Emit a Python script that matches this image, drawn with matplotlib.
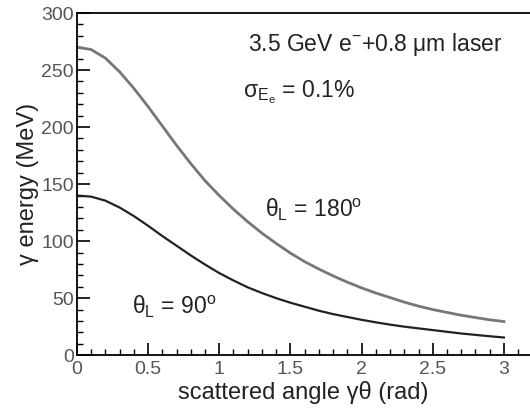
import matplotlib
matplotlib.use('Agg')
import matplotlib.pyplot as plt
import matplotlib.ticker as mtick

plt.rcParams['font.family'] = ['Liberation Sans', 'DejaVu Sans']
plt.rcParams['mathtext.fontset'] = 'custom'
plt.rcParams['mathtext.rm'] = 'Liberation Sans'
plt.rcParams['mathtext.it'] = 'Liberation Sans'
plt.rcParams['mathtext.bf'] = 'Liberation Sans:bold'

# scattered angle gamma*theta (rad)
angle = [0.0, 0.1, 0.2, 0.3, 0.4, 0.5, 0.6, 0.7, 0.8, 0.9, 1.0,
         1.1, 1.2, 1.3, 1.4, 1.5, 1.6, 1.7, 1.8, 1.9, 2.0,
         2.1, 2.2, 2.3, 2.4, 2.5, 2.6, 2.7, 2.8, 2.9, 3.0]

# gamma energy (MeV), theta_L = 180 deg
e_180 = [270, 268, 260.5, 248.5, 234, 218, 201, 184, 168, 153, 140,
         128, 117, 107, 98, 89.5, 82, 75.5, 69.5, 64, 59,
         54.5, 50.5, 46.5, 43, 40, 37.5, 35, 33, 31, 29.5]

# gamma energy (MeV), theta_L = 90 deg
e_90 = [140, 139, 135.5, 129.5, 122, 113.5, 104.5, 96, 87.5, 79.5, 72,
        65.5, 59.5, 54.5, 50, 46, 42.5, 39, 36, 33.5, 31,
        28.8, 26.8, 25, 23.5, 22, 20.5, 19, 17.8, 16.6, 15.5]

f = plt.figure(figsize=(5.3, 4.13), dpi=100)
ax = f.add_axes([0.145, 0.140, 0.855, 0.8285])

ax.plot(angle, e_180, color='#777777', lw=2.0, solid_joinstyle='round')
ax.plot(angle, e_90, color='#222222', lw=1.6, solid_joinstyle='round')

ax.set_xlim(0, 3.183)
ax.set_ylim(0, 300)
ax.xaxis.set_major_locator(mtick.MultipleLocator(0.5))
ax.xaxis.set_minor_locator(mtick.MultipleLocator(0.1))
ax.yaxis.set_major_locator(mtick.MultipleLocator(50))
ax.yaxis.set_minor_locator(mtick.MultipleLocator(10))
ax.xaxis.set_major_formatter(mtick.FuncFormatter(lambda v, p: '%g' % v))

ax.tick_params(which='both', direction='in', top=False, right=False,
               labelsize=14, labelcolor='#555555')
ax.tick_params(which='major', length=9, width=1.2)
ax.tick_params(which='minor', length=4.5, width=1.0)
ax.tick_params(axis='y', pad=2)
ax.tick_params(axis='x', pad=4)

for s in ax.spines.values():
  s.set_linewidth(1.3)
ax.spines['right'].set_visible(False)

ax.set_xlabel('scattered angle γθ (rad)', fontsize=17, color='#222222',
              labelpad=2)
ax.set_ylabel('γ energy (MeV)', fontsize=17, color='#222222', labelpad=2)

ax.text(1.20, 272, '3.5 GeV e$^{-}$+0.8 μm laser', fontsize=16.5,
        color='#222222', va='center')
ax.text(1.17, 231, 'σ$_{E_{e}}$ = 0.1%', fontsize=16.5, color='#222222',
        va='center')
ax.text(1.32, 127, 'θ$_{L}$ = 180$^{o}$', fontsize=16.5, color='#222222',
        va='center')
ax.text(0.39, 42, 'θ$_{L}$ = 90$^{o}$', fontsize=16.5, color='#222222',
        va='center')

plt.savefig('out.png', dpi=100)
